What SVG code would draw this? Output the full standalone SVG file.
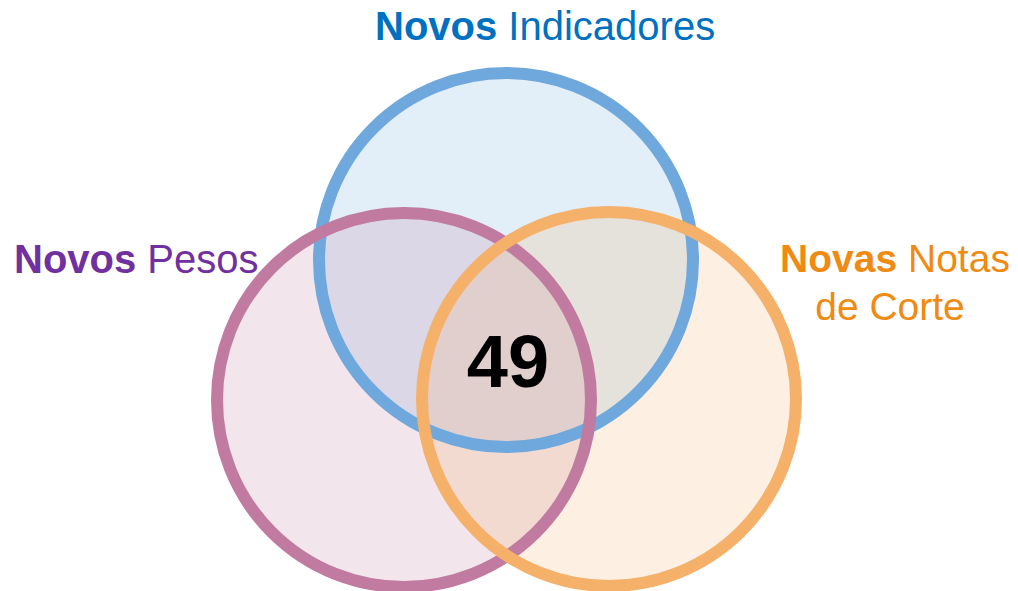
<svg xmlns="http://www.w3.org/2000/svg" width="1018" height="591" viewBox="0 0 1018 591">
<style>
.f{fill-opacity:0.2;stroke:none}
.s{fill:none;stroke-width:12}
.t{font-family:"Liberation Sans",Arial,sans-serif;font-size:39px}
.b{font-weight:bold}
</style>
<rect width="1018" height="591" fill="#fff"/>
<g id="indicadores">
<circle class="f" cx="506" cy="260" r="187" fill="#6FA8DC"/>
</g>
<g id="pesos">
<circle class="f" cx="404" cy="400" r="187" fill="#C17BA0"/>
</g>
<g id="notas">
<circle class="f" cx="609" cy="399" r="187" fill="#F5B06A"/>
</g>
<g id="outlines">
<circle class="s" cx="506" cy="260" r="187" stroke="#6FA8DC"/>
<circle class="s" cx="404" cy="400" r="187" stroke="#C17BA0"/>
<circle class="s" cx="609" cy="399" r="187" stroke="#F5B06A"/>
</g>
<g id="labels">
<text class="t" x="375" y="40" fill="#0070C0" style="font-size:40px"><tspan class="b">Novos</tspan> Indicadores</text>
<text class="t" x="14" y="273" fill="#7030A0" style="font-size:40px"><tspan class="b">Novos</tspan> Pesos</text>
<text class="t" x="895" y="272" fill="#EF8A12" text-anchor="middle"><tspan class="b">Novas</tspan> Notas</text>
<text class="t" x="890" y="320" fill="#EF8A12" text-anchor="middle">de Corte</text>
<text x="508" y="387" font-family="Liberation Sans,Arial,sans-serif" font-size="74" font-weight="bold" fill="#000" text-anchor="middle">49</text>
</g>
</svg>
